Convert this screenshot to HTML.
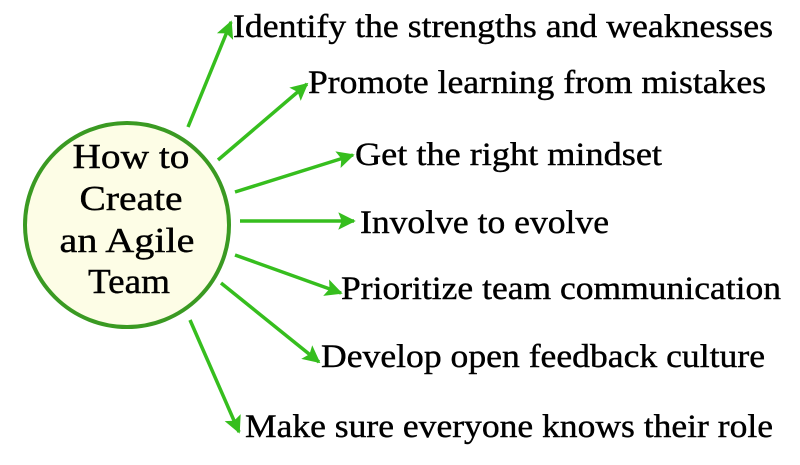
<!DOCTYPE html>
<html><head><meta charset="utf-8"><style>html,body{margin:0;padding:0;background:#fff}svg{display:block}text{font-family:"Liberation Serif","Times New Roman",serif}</style></head>
<body>
<svg width="800" height="465" viewBox="0 0 800 465" xmlns="http://www.w3.org/2000/svg">
<defs>
<marker id="a" viewBox="0 0 10 10" refX="9" refY="5" markerWidth="6" markerHeight="5" orient="auto" markerUnits="strokeWidth">
<path d="M0,0 L10,5 L0,10 L2,5 z" fill="#36be1e"/>
</marker>
</defs>
<circle cx="127" cy="225" r="102" fill="#fdfde6" stroke="#3a9a22" stroke-width="4"/>
<g font-size="35" fill="#000" stroke="#000" stroke-width="0.4" text-anchor="middle">
<text x="131" y="168" textLength="117" lengthAdjust="spacingAndGlyphs">How to</text>
<text x="131" y="210" textLength="103" lengthAdjust="spacingAndGlyphs">Create</text>
<text x="127" y="252" textLength="135" lengthAdjust="spacingAndGlyphs">an Agile</text>
<text x="129" y="293" textLength="82" lengthAdjust="spacingAndGlyphs">Team</text>
</g>
<g stroke="#36be1e" stroke-width="3.5" fill="none" marker-end="url(#a)">
<line x1="188" y1="127" x2="231" y2="22"/>
<line x1="218" y1="160" x2="307" y2="84"/>
<line x1="235" y1="192" x2="353" y2="155"/>
<line x1="240" y1="221" x2="354" y2="221"/>
<line x1="235" y1="255" x2="341" y2="293"/>
<line x1="221" y1="283" x2="319" y2="362"/>
<line x1="190" y1="320" x2="239" y2="432"/>
</g>
<g font-size="33" fill="#000" stroke="#000" stroke-width="0.4">
<text x="233" y="37" textLength="540" lengthAdjust="spacingAndGlyphs">Identify the strengths and weaknesses</text>
<text x="308" y="93" textLength="458" lengthAdjust="spacingAndGlyphs">Promote learning from mistakes</text>
<text x="355" y="165" textLength="307" lengthAdjust="spacingAndGlyphs">Get the right mindset</text>
<text x="360" y="233" textLength="249" lengthAdjust="spacingAndGlyphs">Involve to evolve</text>
<text x="341" y="299" textLength="440" lengthAdjust="spacingAndGlyphs">Prioritize team communication</text>
<text x="321" y="367" textLength="444" lengthAdjust="spacingAndGlyphs">Develop open feedback culture</text>
<text x="245" y="437" textLength="528" lengthAdjust="spacingAndGlyphs">Make sure everyone knows their role</text>
</g>
</svg>
</body></html>
